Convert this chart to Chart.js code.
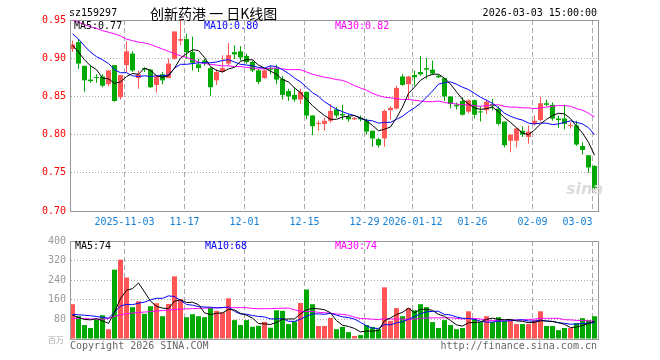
<!DOCTYPE html>
<html lang="zh-CN">
<head>
    <meta charset="UTF-8">
    <meta name="viewport" content="width=device-width, initial-scale=1.0">
    <title>创新药港 日K线图</title>
    <script src="https://cdn.jsdelivr.net/npm/chart.js"></script>
    <style>
        body { margin: 0; background: #fff; }
        #painel { position: relative; width: 660px; height: 360px; overflow: hidden; }
        #painel canvas { position: absolute; left: 0; }
        #kline { top: 0; }
        #volume { top: 230px; }
        .t { position: absolute; font: 10px "DejaVu Sans Mono", monospace; line-height: 12px; white-space: pre; color: #000; }
    </style>
</head>
<body>
<div id="painel">
    <canvas id="kline" width="660" height="230"></canvas>
    <canvas id="volume" width="660" height="130"></canvas>

    <div class="t" style="left:69px;top:7px">sz159297</div>
    <div class="t" style="left:150px;top:4px;font:14px 'Noto Sans CJK SC',sans-serif;line-height:18px">创新药港 一 日K线图</div>
    <div class="t" style="right:63px;top:7px">2026-03-03 15:00:00</div>

    <div class="t" style="left:74px;top:20px">MA5:0.77</div>
    <div class="t" style="left:204px;top:20px;color:#0000ff">MA10:0.80</div>
    <div class="t" style="left:335px;top:20px;color:#ff00ff">MA30:0.82</div>
    <div class="t" style="left:566px;top:180px;font:italic bold 16px 'DejaVu Sans',sans-serif;line-height:18px;color:#dcdcdc">sina</div>

    <div class="t" style="left:75px;top:240px">MA5:74</div>
    <div class="t" style="left:205px;top:240px;color:#0000ff">MA10:68</div>
    <div class="t" style="left:335px;top:240px;color:#ff00ff">MA30:74</div>

    <div class="t" style="left:48px;top:334px;font:8px 'Noto Sans CJK SC',sans-serif;color:#aaa">百万</div>
    <div class="t" style="left:70px;top:340px;color:#666">Copyright 2026 SINA.COM</div>
    <div class="t" style="right:63px;top:340px;color:#666">http://finance.sina.com.cn</div>
</div>

<script>
    const days = [
        '2025-10-21','2025-10-22','2025-10-23','2025-10-24','2025-10-27','2025-10-28','2025-10-29','2025-10-30','2025-10-31',
        '2025-11-03','2025-11-04','2025-11-05','2025-11-06','2025-11-07','2025-11-10','2025-11-11','2025-11-12','2025-11-13','2025-11-14',
        '2025-11-17','2025-11-18','2025-11-19','2025-11-20','2025-11-21','2025-11-24','2025-11-25','2025-11-26','2025-11-27','2025-11-28',
        '2025-12-01','2025-12-02','2025-12-03','2025-12-04','2025-12-05','2025-12-08','2025-12-09','2025-12-10','2025-12-11','2025-12-12',
        '2025-12-15','2025-12-16','2025-12-17','2025-12-18','2025-12-19','2025-12-22','2025-12-23','2025-12-24','2025-12-25','2025-12-26',
        '2025-12-29','2025-12-30','2025-12-31','2026-01-05','2026-01-06','2026-01-07','2026-01-08','2026-01-09',
        '2026-01-12','2026-01-13','2026-01-14','2026-01-15','2026-01-16','2026-01-19','2026-01-20','2026-01-21','2026-01-22','2026-01-23',
        '2026-01-26','2026-01-27','2026-01-28','2026-01-29','2026-01-30','2026-02-02','2026-02-03','2026-02-04','2026-02-05','2026-02-06',
        '2026-02-09','2026-02-10','2026-02-11','2026-02-12','2026-02-13','2026-02-24','2026-02-25','2026-02-26','2026-02-27',
        '2026-03-02','2026-03-03'
    ];

    const open = [
        0.912,0.921,0.890,0.872,0.875,0.876,0.866,0.891,0.849,0.891,
        0.906,0.874,0.887,0.885,0.865,0.879,0.874,0.899,0.923,0.925,
        0.908,0.892,0.897,0.887,0.871,0.882,0.893,0.908,0.909,0.903,
        0.895,0.884,0.874,0.887,0.887,0.873,0.857,0.852,0.846,0.856,
        0.825,0.814,0.814,0.818,0.833,0.827,0.823,0.820,0.822,0.818,
        0.805,0.794,0.795,0.832,0.834,0.876,0.866,0.878,0.882,0.887,
        0.885,0.877,0.874,0.850,0.839,0.844,0.830,0.845,0.830,0.832,
        0.840,0.834,0.817,0.792,0.792,0.805,0.797,0.814,0.819,0.841,
        0.839,0.821,0.821,0.811,0.812,0.785,0.773,0.759
    ];
    const high = [
        0.923,0.925,0.890,0.890,0.879,0.879,0.884,0.891,0.878,0.922,
        0.909,0.884,0.888,0.886,0.878,0.882,0.900,0.935,0.950,0.932,
        0.928,0.899,0.899,0.888,0.886,0.904,0.920,0.917,0.916,0.906,
        0.897,0.886,0.885,0.890,0.891,0.877,0.860,0.862,0.860,0.856,
        0.825,0.818,0.822,0.840,0.836,0.839,0.827,0.823,0.825,0.821,
        0.805,0.796,0.833,0.837,0.864,0.879,0.877,0.884,0.903,0.900,
        0.897,0.879,0.874,0.850,0.842,0.849,0.846,0.846,0.837,0.846,
        0.847,0.837,0.817,0.800,0.809,0.811,0.812,0.825,0.850,0.846,
        0.842,0.825,0.839,0.816,0.818,0.790,0.773,0.760
    ];
    const low = [
        0.908,0.886,0.856,0.868,0.868,0.862,0.863,0.843,0.846,0.882,
        0.882,0.860,0.882,0.861,0.855,0.866,0.874,0.898,0.917,0.899,
        0.884,0.882,0.890,0.851,0.865,0.881,0.891,0.899,0.897,0.893,
        0.882,0.866,0.873,0.879,0.866,0.846,0.844,0.843,0.840,0.820,
        0.799,0.805,0.805,0.816,0.822,0.819,0.817,0.819,0.817,0.800,
        0.784,0.783,0.784,0.820,0.833,0.864,0.846,0.864,0.877,0.873,
        0.878,0.874,0.844,0.834,0.833,0.825,0.828,0.821,0.817,0.827,
        0.832,0.812,0.783,0.777,0.783,0.797,0.788,0.812,0.817,0.837,
        0.818,0.809,0.807,0.808,0.785,0.774,0.750,0.727
    ];
    const close = [
        0.918,0.893,0.871,0.870,0.874,0.864,0.884,0.844,0.878,0.909,
        0.884,0.879,0.885,0.862,0.876,0.871,0.893,0.935,0.925,0.908,
        0.894,0.887,0.893,0.862,0.882,0.887,0.904,0.905,0.901,0.895,
        0.884,0.869,0.884,0.885,0.872,0.852,0.850,0.846,0.856,0.825,
        0.811,0.815,0.818,0.831,0.825,0.825,0.820,0.822,0.820,0.804,
        0.795,0.786,0.831,0.835,0.861,0.865,0.876,0.875,0.879,0.885,
        0.880,0.875,0.850,0.840,0.837,0.826,0.845,0.826,0.829,0.843,
        0.837,0.814,0.786,0.800,0.808,0.800,0.804,0.818,0.841,0.839,
        0.821,0.819,0.814,0.812,0.787,0.780,0.757,0.730
    ];

    const ma5 = [
        0.917,0.908,0.898,0.890,0.885,0.874,0.873,0.867,0.869,0.876,
        0.880,0.879,0.887,0.884,0.877,0.875,0.877,0.887,0.900,0.906,
        0.911,0.910,0.901,0.889,0.884,0.882,0.886,0.888,0.896,0.898,
        0.898,0.891,0.887,0.883,0.879,0.872,0.869,0.861,0.855,0.846,
        0.838,0.831,0.825,0.820,0.820,0.823,0.824,0.825,0.822,0.818,
        0.812,0.805,0.807,0.810,0.822,0.836,0.854,0.862,0.871,0.876,
        0.879,0.879,0.874,0.866,0.856,0.846,0.840,0.835,0.833,0.834,
        0.836,0.830,0.822,0.816,0.809,0.802,0.800,0.806,0.814,0.820,
        0.825,0.828,0.827,0.821,0.811,0.802,0.790,0.773
    ];
    const ma10 = [
        0.932,0.925,0.916,0.908,0.902,0.898,0.893,0.885,0.881,0.881,
        0.877,0.876,0.877,0.876,0.877,0.877,0.878,0.887,0.892,0.892,
        0.893,0.894,0.894,0.894,0.895,0.897,0.898,0.895,0.892,0.891,
        0.890,0.888,0.887,0.890,0.889,0.885,0.880,0.874,0.869,0.862,
        0.855,0.850,0.843,0.838,0.833,0.830,0.827,0.825,0.821,0.819,
        0.818,0.815,0.816,0.816,0.820,0.824,0.830,0.835,0.841,0.849,
        0.857,0.866,0.868,0.869,0.866,0.862,0.859,0.854,0.849,0.845,
        0.841,0.835,0.828,0.824,0.821,0.819,0.815,0.814,0.815,0.815,
        0.813,0.814,0.816,0.818,0.816,0.814,0.809,0.800
    ];
    const ma30 = [
        0.950,0.947,0.944,0.941,0.939,0.936,0.934,0.932,0.929,0.925,
        0.923,0.921,0.920,0.918,0.915,0.912,0.909,0.906,0.903,0.901,
        0.898,0.895,0.893,0.892,0.891,0.890,0.890,0.889,0.889,0.888,
        0.887,0.886,0.886,0.887,0.887,0.886,0.885,0.885,0.885,0.882,
        0.879,0.877,0.875,0.874,0.872,0.871,0.868,0.864,0.861,0.858,
        0.854,0.851,0.849,0.848,0.847,0.846,0.846,0.845,0.844,0.843,
        0.843,0.844,0.842,0.841,0.840,0.839,0.839,0.838,0.837,0.838,
        0.839,0.839,0.837,0.836,0.836,0.835,0.835,0.834,0.835,0.836,
        0.837,0.838,0.838,0.837,0.834,0.832,0.828,0.823
    ];

    // volume em 百万
    const volume = [
        142,93,57,45,80,97,40,283,324,251,
        130,154,103,134,146,93,143,256,162,89,
        101,93,89,127,115,108,166,77,57,77,
        50,54,70,46,117,115,61,72,147,202,
        142,53,53,86,40,49,28,12,16,57,
        49,40,211,74,126,93,126,117,142,130,
        69,45,77,57,40,45,113,81,69,93,
        69,89,73,77,61,61,61,77,113,53,
        53,36,45,45,65,85,77,93
    ];
    const volMa5 = [
        97,88,80,78,83.4,74.4,63.8,109,164.8,199,
        205.6,228.4,192.4,154.4,133.4,126,123.8,154.4,160,148.6,
        150.2,140.2,106.8,99.8,105,106.4,121,118.6,104.6,97,
        85.4,63,61.6,59.4,67.4,80.4,81.8,82.2,102.4,119.4,
        124.8,123.2,119.4,107.2,74.8,56.2,51.2,43,29,32.4,
        32.4,34.8,74.6,86.2,100,108.8,126,107.2,120.8,121.6,
        116.8,100.6,92.6,75.6,57.6,52.8,66.4,67.2,69.6,80.2,
        85,80.2,78.6,80.2,73.8,72.2,66.6,67.4,74.6,73,
        71.4,66.4,60,46.4,48.8,55.2,63.4,73
    ];
    const volMa10 = [
        100,99,97,95,92,88,85,110,135,141.2,
        140,146.1,150.7,159.6,166.2,165.8,176.1,173.4,157.2,141,
        138.1,132,130.6,129.9,126.8,128.3,130.6,112.7,102.2,101,
        95.9,92,90.1,82,82.2,82.9,72.4,71.9,80.9,93.4,
        102.6,102.5,100.8,104.8,97.1,90.5,87.2,81.2,68.1,53.6,
        44.3,43,58.8,57.6,66.2,70.6,80.4,90.9,103.5,110.8,
        112.8,113.3,99.9,98.2,89.6,84.8,83.5,79.9,72.6,68.9,
        68.9,73.3,72.9,74.9,77,78.6,73.4,73,77.4,73.4,
        71.8,66.5,63.7,60.5,60.9,63.3,64.9,66.5
    ];
    const volMa30 = [
        84,84,83,82,81,81,84,92,99,103,
        106,108,110,112,114,116,118,120,122,123,
        124,125,126,127,127,128,128,128,128,127.7,
        124.7,123.4,123.8,123.8,125.1,125.7,126.4,119.3,113.4,111.8,
        112.2,108.8,107.2,105.6,102,100.6,96.7,88.6,83.7,82.7,
        80.9,79.2,83.2,81.5,81.8,81.3,80,81.3,84.2,85.9,
        86.6,86.3,86.5,86.9,84.3,82,83.7,84,81.4,77.8,
        75.3,76.5,77.2,76.9,77.6,78,79.1,81.3,84.5,84.4,
        84.5,84.4,78.8,77.9,75.8,75.6,73.9,73.1
    ];

    const tickDays = ['2025-11-03','2025-11-17','2025-12-01','2025-12-15','2025-12-29','2026-01-12','2026-01-26','2026-02-09','2026-03-03'];
    const tickLabels = ['2025-11-03','11-17','12-01','12-15','12-29','2026-01-12','01-26','02-09','03-03'];
    const priceTicks = [0.70, 0.75, 0.80, 0.85, 0.90, 0.95];
    const volTicks = [0, 80, 160, 240, 320, 400];

    const VERMELHO = '#ff5555';
    const VERDE = '#00a800';

    Chart.defaults.font.family = "'DejaVu Sans Mono', monospace";
    Chart.defaults.font.size = 10;

    const idx = days.map((d, i) => i);
    const cores = idx.map(i => close[i] >= open[i] ? VERMELHO : VERDE);
    const pontos = arr => arr.map((v, i) => ({ x: i, y: v }));

    // moldura cinza em volta da area do grafico
    const moldura = {
        id: 'moldura',
        beforeDatasetsDraw(chart) {
            const { ctx, chartArea: a } = chart;
            ctx.save();
            ctx.strokeStyle = '#999';
            ctx.lineWidth = 1;
            ctx.strokeRect(a.left - 0.5, a.top + 0.5, a.right - a.left + 1, a.bottom - a.top);
            ctx.restore();
        }
    };

    function eixoX(comRotulos) {
        return {
            type: 'linear',
            bounds: 'data',
            offset: false,
            min: -0.25,
            max: 87.5833,
            afterFit: s => { s.height = comRotulos ? 19 : 21; },
            afterBuildTicks: s => { s.ticks = tickDays.map(d => ({ value: days.indexOf(d) - 1 / 3 })); },
            grid: { color: '#aaa', lineWidth: 1, drawTicks: false, offset: false },
            border: { display: false, dash: [5, 3] },
            ticks: {
                display: comRotulos,
                autoSkip: false,
                maxRotation: 0,
                minRotation: 0,
                padding: 5,
                color: '#1580d8',
                callback: (v, i) => {
                    const t = tickLabels[i];
                    return i === tickLabels.length - 1 ? t + ' '.repeat(t.length) : t;
                }
            }
        };
    }

    function linha(arr, cor) {
        return {
            type: 'line',
            data: pontos(arr),
            borderColor: cor,
            borderWidth: 1,
            pointRadius: 0,
            tension: 0,
            order: 0
        };
    }

    const comum = {
        type: 'bar',
        plugins: [moldura]
    };

    new Chart(document.getElementById('kline'), {
        ...comum,
        data: {
            datasets: [
                {
                    data: idx.map(i => ({ x: i, y: [low[i], high[i]] })),
                    backgroundColor: cores,
                    barThickness: 1,
                    grouped: false,
                    inflateAmount: 0,
                    order: 2
                },
                {
                    data: idx.map(i => ({ x: i, y: [open[i], close[i]] })),
                    backgroundColor: cores,
                    barThickness: 5,
                    minBarLength: 1,
                    grouped: false,
                    inflateAmount: 0,
                    order: 1
                },
                linha(ma5, '#000000'),
                linha(ma10, '#0000ff'),
                linha(ma30, '#ff00ff')
            ]
        },
        options: {
            responsive: false,
            animation: false,
            devicePixelRatio: 1,
            events: [],
            layout: { padding: { left: 0, right: 62, top: 20, bottom: 0 } },
            plugins: { legend: { display: false }, tooltip: { enabled: false } },
            scales: {
                x: eixoX(true),
                y: {
                    min: 0.70,
                    max: 0.95,
                    afterFit: s => { s.width = 71; },
                    afterBuildTicks: s => { s.ticks = priceTicks.map(v => ({ value: v })); },
                    grid: { color: '#aaa', drawTicks: false },
                    border: { display: false, dash: [1, 2] },
                    ticks: { color: '#ff0000', padding: 5, callback: v => v.toFixed(2) }
                }
            }
        }
    });

    new Chart(document.getElementById('volume'), {
        ...comum,
        data: {
            datasets: [
                {
                    data: pontos(volume),
                    backgroundColor: cores,
                    barThickness: 5,
                    grouped: false,
                    inflateAmount: 0,
                    order: 1
                },
                linha(volMa5, '#000000'),
                linha(volMa10, '#0000ff'),
                linha(volMa30, '#ff00ff')
            ]
        },
        options: {
            responsive: false,
            animation: false,
            devicePixelRatio: 1,
            events: [],
            layout: { padding: { left: 0, right: 62, top: 10, bottom: 0 } },
            plugins: { legend: { display: false }, tooltip: { enabled: false } },
            scales: {
                x: eixoX(false),
                y: {
                    min: 0,
                    max: 400,
                    afterFit: s => { s.width = 71; },
                    afterBuildTicks: s => { s.ticks = volTicks.map(v => ({ value: v })); },
                    grid: { color: '#aaa', drawTicks: false },
                    border: { display: false, dash: [1, 2] },
                    ticks: { color: '#999', padding: 5, callback: v => v === 0 ? '' : v }
                }
            }
        }
    });
</script>
</body>
</html>
